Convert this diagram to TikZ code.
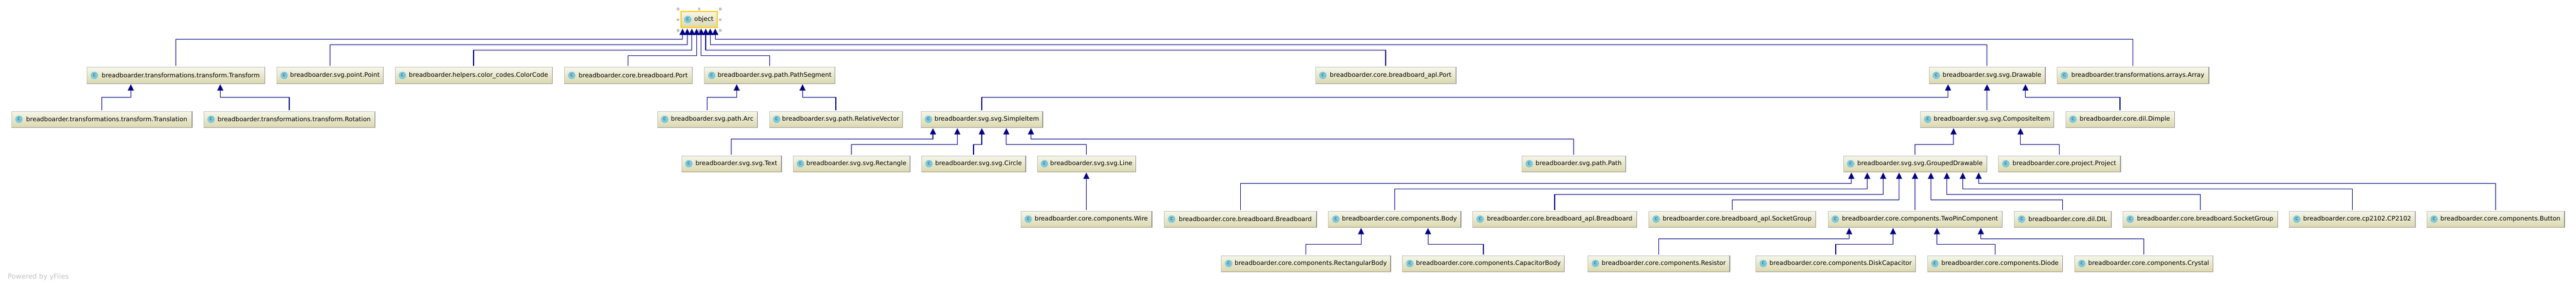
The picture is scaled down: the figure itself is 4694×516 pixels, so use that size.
\documentclass[tikz,border=0pt]{standalone}
\usepackage{fontspec}
\setmainfont{DejaVu Sans}
\usetikzlibrary{arrows.meta}
\definecolor{edgeblue}{HTML}{000080}
\definecolor{iconblue}{HTML}{7FC8DA}
\definecolor{icontext}{HTML}{24525F}
\definecolor{boxtop}{HTML}{F6F6EA}
\definecolor{boxbottom}{HTML}{DBD8AE}
\definecolor{boxline}{HTML}{C2C2C2}
\definecolor{boxshade}{HTML}{989898}
\definecolor{pickyellow}{HTML}{FFCC00}
\definecolor{pickgray}{HTML}{C4C4C4}
\begin{document}
\begin{tikzpicture}[x=1pt,y=-1pt,
  classbox/.style={rectangle,draw=boxline,line width=1pt,top color=boxtop,bottom color=boxbottom,
    minimum height=29pt,inner sep=0pt,font=\fontsize{11.3}{13}\selectfont},
  classicon/.style={circle,fill=iconblue,text=icontext,minimum size=13.5pt,inner sep=0pt,
    font=\fontsize{9}{10}\selectfont},
  subclass/.style={draw=edgeblue,line width=1.2pt,-{Triangle[length=11.5pt,width=11pt]}},
  pickmark/.style={rectangle,fill=pickgray,minimum size=4.8pt,inner sep=0pt}]
\useasboundingbox (0,0) rectangle (4694,516);
\node [text=pickgray,anchor=west,font=\fontsize{12.5}{14}\selectfont] (poweredby) at (10.5,505) {Powered by yFiles};
% selection marks round the root class
\foreach \mx/\my/\nm in {1235.7/16.7/nw,1274/16.7/n,1312.3/16.7/ne,1235.7/36/w,1312.3/36/e,1235.7/55.3/sw,1274/55.3/s,1312.3/55.3/se}
  {\node [pickmark] (mark\nm) at (\mx,\my) {};}
% classes: name/left/right/top/label
\foreach \nm/\lft/\rgt/\ytop/\lbl in {
  transform/158.7/482/123/breadboarder.transformations.transform.Transform,
  point/504.6/698/123/breadboarder.svg.point.Point,
  colorcode/720/1006/123/breadboarder.helpers.color\_codes.ColorCode,
  boardport/1028.6/1261/123/breadboarder.core.breadboard.Port,
  pathsegment/1283.7/1521/123/breadboarder.svg.path.PathSegment,
  aplport/2397.3/2652.7/123/breadboarder.core.breadboard\_apl.Port,
  drawable/3515/3726.5/123/breadboarder.svg.svg.Drawable,
  array/3748.5/4024.5/123/breadboarder.transformations.arrays.Array,
  translation/21.4/349.5/203/breadboarder.transformations.transform.Translation,
  rotation/371.4/682.6/203/breadboarder.transformations.transform.Rotation,
  arc/1198/1379.6/203/breadboarder.svg.path.Arc,
  relvector/1402/1644/203/breadboarder.svg.path.RelativeVector,
  simpleitem/1678.6/1899.5/203/breadboarder.svg.svg.SimpleItem,
  compositeitem/3499.5/3742/203/breadboarder.svg.svg.CompositeItem,
  dimple/3764/3962/203/breadboarder.core.dil.Dimple,
  svgtext/1242/1423.5/284/breadboarder.svg.svg.Text,
  rectangle/1445.4/1657.6/284/breadboarder.svg.svg.Rectangle,
  svgcircle/1679.6/1868.4/284/breadboarder.svg.svg.Circle,
  svgline/1890/2069/284/breadboarder.svg.svg.Line,
  path/2773.4/2961.7/284/breadboarder.svg.path.Path,
  grouped/3359/3620/284/breadboarder.svg.svg.GroupedDrawable,
  project/3641.8/3863.4/284/breadboarder.core.project.Project,
  wire/1860.5/2098.5/385/breadboarder.core.components.Wire,
  breadboard/2121.8/2398.5/385/breadboarder.core.breadboard.Breadboard,
  body/2420.9/2661.4/385/breadboarder.core.components.Body,
  aplboard/2683.8/2982.3/385/breadboarder.core.breadboard\_apl.Breadboard,
  aplsocket/3004.6/3308.3/385/breadboarder.core.breadboard\_apl.SocketGroup,
  twopin/3331/3648/385/breadboarder.core.components.TwoPinComponent,
  dil/3670.5/3846.7/385/breadboarder.core.dil.DIL,
  boardsocket/3868.3/4150.3/385/breadboarder.core.breadboard.SocketGroup,
  cptwo/4171.9/4400.6/385/breadboarder.core.cp2102.CP2102,
  button/4422/4672.4/385/breadboarder.core.components.Button,
  rectbody/2225.7/2533.4/466/breadboarder.core.components.RectangularBody,
  capbody/2555.8/2850.3/466/breadboarder.core.components.CapacitorBody,
  resistor/2893.9/3151.5/466/breadboarder.core.components.Resistor,
  diskcap/3199.8/3490.2/466/breadboarder.core.components.DiskCapacitor,
  diode/3512.6/3758.3/466/breadboarder.core.components.Diode,
  crystal/3780.3/4032.3/466/breadboarder.core.components.Crystal}
  {\node [classbox,minimum width=(\rgt-\lft)*1pt] (\nm) at ({(\lft+\rgt)/2},\ytop+14.5) {\hspace*{18pt}\lbl};
   \draw [boxshade,line width=1.2pt] (\nm.south west) -- (\nm.south east) -- (\nm.north east);
   \node [classicon] (\nm icon) at ([xshift=13.7pt]\nm.west) {c};}
% the root is the one picked class
\node [classbox,draw=pickyellow,line width=2pt,minimum width=66pt] (object) at (1273.5,35.5) {\hspace*{18pt}object};
\node [classicon] (objecticon) at ([xshift=13.7pt]object.west) {c};
% inheritance: child/parent/shift on parent/height of the bend
\foreach \child/\parent/\dx/\bend in {
  transform/object/-29.8/71.3,point/object/-21.2/81.3,colorcode/object/-12.8/91.3,boardport/object/-4.2/101.3,
  pathsegment/object/4.2/101.3,aplport/object/12.5/91.3,drawable/object/20.8/81.3,array/object/29.8/71.3,
  translation/transform/-82/177.3,rotation/transform/81/177.3,
  arc/pathsegment/-60/177.3,relvector/pathsegment/60/177.3,
  simpleitem/drawable/-71/177.3,compositeitem/drawable/0/177.3,dimple/drawable/70/177.3,
  svgtext/simpleitem/-89/253.3,rectangle/simpleitem/-44.6/263.3,svgcircle/simpleitem/0/263.3,
  svgline/simpleitem/44.7/263.3,path/simpleitem/89.6/253.3,
  grouped/compositeitem/-61/263.3,project/compositeitem/61/263.3,
  wire/svgline/0/350,
  breadboard/grouped/-116/334.3,body/grouped/-87/344.3,aplboard/grouped/-58/354.3,aplsocket/grouped/-29/364.3,
  twopin/grouped/0/364.3,dil/grouped/29/364.3,boardsocket/grouped/58/354.3,cptwo/grouped/87/344.3,button/grouped/116/334.3,
  rectbody/body/-61/445.3,capbody/body/61/445.3,
  resistor/twopin/-120/435.3,diskcap/twopin/-40/445.3,diode/twopin/40/445.3,crystal/twopin/120/435.3}
  {\coordinate (bendy) at (0,\bend);
   \coordinate (tip) at ([xshift=\dx pt,yshift=-1.2pt]\parent.south);
   \draw [subclass] ([yshift=2pt]\child.north) -- (\child.north |- bendy) -- (tip |- bendy) -- (tip);}
\end{tikzpicture}
\end{document}
